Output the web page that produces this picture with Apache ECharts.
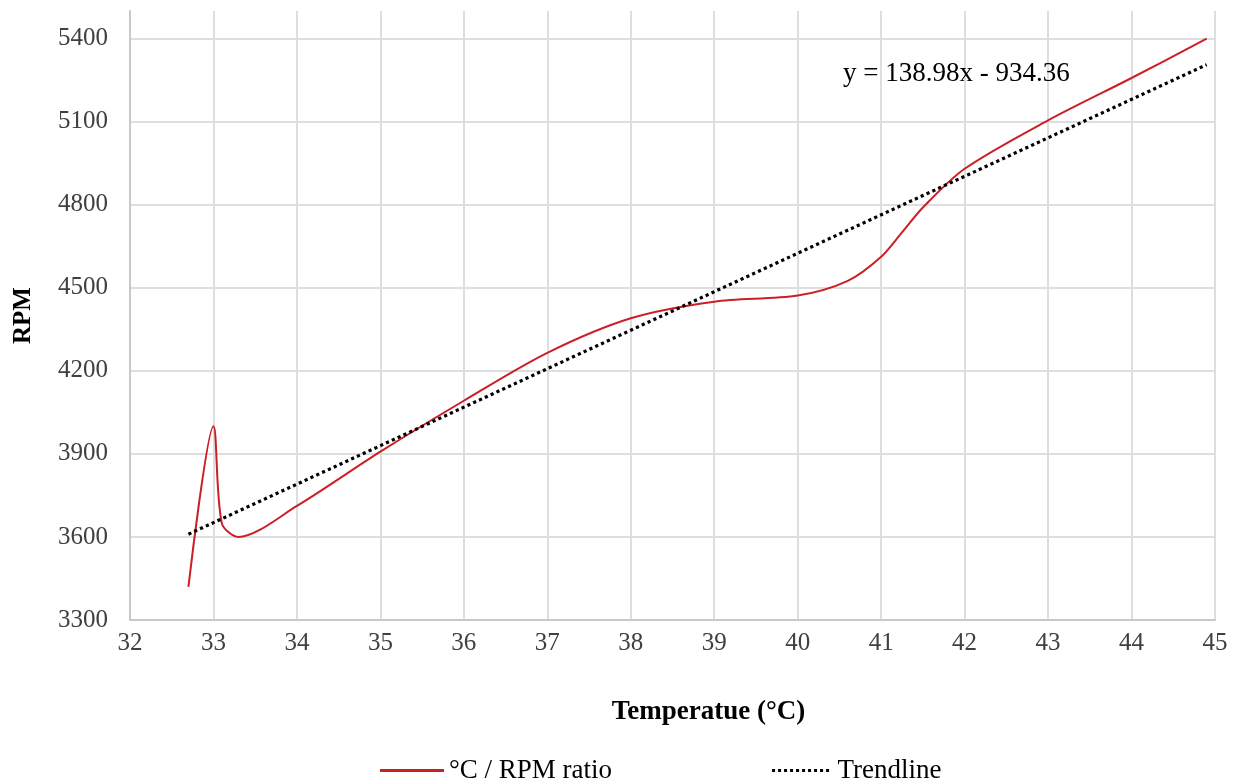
<!DOCTYPE html>
<html>
<head>
<meta charset="utf-8">
<script src="https://cdn.jsdelivr.net/npm/echarts@6/dist/echarts.min.js"></script>
<style>
  html, body { margin: 0; padding: 0; background: #fff; }
  #main { width: 1239px; height: 783px; }
</style>
</head>
<body>
<div id="main"></div>
<script>
const temps = [32.7, 33.0, 33.1, 33.3, 34.0, 35.0, 36.0, 37.0, 38.0, 39.0, 40.0, 40.6, 41.0, 41.25, 41.5, 42.0, 43.0, 44.0, 44.9];
const rpm   = [3420, 4000, 3650, 3600, 3712, 3908, 4092, 4265, 4390, 4450, 4472, 4525, 4612, 4700, 4790, 4930, 5105, 5258, 5400];

// trendline endpoints
const trendX = [32.7, 44.9];
const trendY = [3610, 5306];

const equationText = 'y = 138.98x - 934.36';

const FONT = '"Liberation Serif", "Times New Roman", serif';

// legend glyphs: a solid stroke and a row of square dots
const solidIcon = 'path://M0,0H64V3H0Z';
let dotIcon = 'path://';
for (let i = 0; i < 10; i++) dotIcon += 'M' + (i * 6) + ',0h3v3h-3z';

const chart = echarts.init(document.getElementById('main'));

const option = {
  animation: false,
  grid: { left: 130, right: 24, top: 11, bottom: 163 },
  xAxis: {
    type: 'value',
    min: 32,
    max: 45,
    interval: 1,
    name: 'Temperatue (°C)',
    nameLocation: 'middle',
    nameGap: 79,
    nameTextStyle: { fontFamily: FONT, fontSize: 27, fontWeight: 'bold', color: '#000', padding: [0, 0, 0, 72] },
    axisLine: { lineStyle: { color: '#c8c8c8', width: 2 } },
    axisTick: { show: false },
    axisLabel: { fontFamily: FONT, fontSize: 25, color: '#404040', margin: 11 },
    splitLine: { lineStyle: { color: '#dedede', width: 2 } }
  },
  yAxis: {
    type: 'value',
    min: 3300,
    max: 5500,
    interval: 300,
    name: 'RPM',
    nameLocation: 'middle',
    nameGap: 94,
    nameTextStyle: { fontFamily: FONT, fontSize: 25, fontWeight: 'bold', color: '#000' },
    axisLine: { show: true, lineStyle: { color: '#c8c8c8', width: 2 } },
    axisTick: { show: false },
    axisLabel: {
      fontFamily: FONT, fontSize: 25, color: '#404040', margin: 22,
      formatter: (v) => (v > 5400 ? '' : String(v))
    },
    splitLine: {
      lineStyle: {
        width: 2,
        // last line (5500) is the top edge, not drawn in the original
        color: ['#dedede', '#dedede', '#dedede', '#dedede', '#dedede', '#dedede', '#dedede', '#dedede', 'rgba(0,0,0,0)']
      }
    }
  },
  legend: {
    left: 375,
    top: 752,
    itemWidth: 64,
    itemHeight: 3,
    itemGap: 160,
    textStyle: { fontFamily: FONT, fontSize: 27, color: '#000' },
    data: [
      { name: '°C / RPM ratio', icon: solidIcon },
      { name: 'Trendline', icon: dotIcon }
    ]
  },
  graphic: [
    {
      type: 'text',
      left: 843,
      top: 60,
      z: 100,
      style: { text: equationText, fontFamily: FONT, fontSize: 27, fill: '#000' }
    }
  ],
  series: [
    {
      name: '°C / RPM ratio',
      type: 'line',
      data: temps.map((t, i) => [t, rpm[i]]),
      smooth: 0.3,
      symbol: 'none',
      lineStyle: { color: '#cc1f25', width: 2 },
      itemStyle: { color: '#cc1f25' },
      z: 3
    },
    {
      name: 'Trendline',
      type: 'line',
      data: trendX.map((t, i) => [t, trendY[i]]),
      symbol: 'none',
      lineStyle: { color: '#000', width: 3.2, type: [3.2, 3.2] },
      itemStyle: { color: '#000' },
      z: 4
    }
  ]
};

chart.setOption(option);
</script>
</body>
</html>
